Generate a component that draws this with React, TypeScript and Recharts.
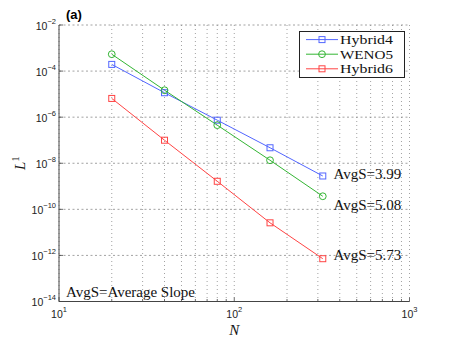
import React from 'react';
import { LineChart, Line, XAxis, YAxis, CartesianGrid, Legend, ReferenceDot } from 'recharts';

// ---- data ----
const Ns = [20, 40, 80, 160, 320];
const hybrid4 = [1.95e-4, 1.15e-5, 7.4e-7, 4.7e-8, 2.8e-9];
const weno5 = [5.4e-4, 1.48e-5, 4.5e-7, 1.35e-8, 3.7e-10];
const hybrid6 = [6.5e-6, 1.0e-7, 1.65e-9, 2.6e-11, 7.2e-13];

const seriesNames = ['Hybrid4', 'WENO5', 'Hybrid6'];
const seriesKeys = ['hybrid4', 'weno5', 'hybrid6'];
const seriesColors = ['#5266ff', '#33b533', '#ff4444'];
const seriesMarkers = ['square', 'circle', 'square'];

const xTicks = [10, 20, 30, 40, 50, 60, 70, 80, 90, 100, 200, 300, 400, 500, 600, 700, 800, 900, 1000];
const yTicks = [1e-14, 1e-12, 1e-10, 1e-8, 1e-6, 1e-4, 1e-2];

const slopeLabels = ['AvgS=3.99', 'AvgS=5.08', 'AvgS=5.73', 'AvgS=Average Slope'];
const slopeLabelN = [368, 368, 368, 10.95];
const slopeLabelL = [3.3e-9, 1.5e-10, 1.0e-12, 2.6e-14];

const panelTitle = '(a)';
const panelAnchorN = 10;
const panelAnchorL = 1e-2;

const data = Ns.map((n, i) => ({ N: n, hybrid4: hybrid4[i], weno5: weno5[i], hybrid6: hybrid6[i] }));

const AXIS = '#444';
const SERIF = '"Liberation Serif", "Times New Roman", serif';
const SANS = '"Liberation Sans", Arial, sans-serif';
const MINUS = '\u2212';

const isMajor = (v: number) => {
  const e = Math.log10(v);
  return Math.abs(e - Math.round(e)) < 1e-9;
};
const expStr = (v: number) => {
  const e = Math.round(Math.log10(v));
  return e < 0 ? MINUS + String(-e) : String(e);
};

const XTickBottom = (props: any) => {
  const { x, y, payload } = props;
  const v = payload.value;
  const major = isMajor(v);
  return (
    <g>
      <line x1={x} x2={x} y1={y} y2={y - (major ? 4 : 2.5)} stroke={AXIS} strokeWidth={0.8} />
      {major && (
        <text x={x} y={y + 16.5} textAnchor="middle" fontFamily={SANS} fontSize={10.5} fill="#222">
          10<tspan dy={-6} fontSize={7.5}>{expStr(v)}</tspan>
        </text>
      )}
    </g>
  );
};

const XTickTop = (props: any) => {
  const { x, y, payload } = props;
  const major = isMajor(payload.value);
  return <line x1={x} x2={x} y1={y} y2={y + (major ? 4 : 2.5)} stroke={AXIS} strokeWidth={0.8} />;
};

const YTickLeft = (props: any) => {
  const { x, y, payload } = props;
  return (
    <g>
      <line x1={x} x2={x + 4} y1={y} y2={y} stroke={AXIS} strokeWidth={0.8} />
      <text x={x - 3} y={y + 4.5} textAnchor="end" fontFamily={SANS} fontSize={10.5} fill="#222">
        10<tspan dy={-6} fontSize={7.5}>{expStr(payload.value)}</tspan>
      </text>
    </g>
  );
};

const YTickRight = (props: any) => {
  const { x, y } = props;
  return <line x1={x} x2={x - 4} y1={y} y2={y} stroke={AXIS} strokeWidth={0.8} />;
};

const makeDot = (marker: string, color: string) => (props: any) => {
  const { cx, cy, index } = props;
  if (cx == null || cy == null) return <g key={index} />;
  if (marker === 'circle') {
    return <circle key={index} cx={cx} cy={cy} r={3.4} fill="none" stroke={color} strokeWidth={1} />;
  }
  return <rect key={index} x={cx - 3} y={cy - 3} width={6} height={6} fill="none" stroke={color} strokeWidth={1} />;
};

const LegendBox = () => (
  <svg width={106} height={47} style={{ display: 'block' }}>
    <rect x={0.5} y={0.5} width={105} height={46} fill="#fff" stroke="#222" strokeWidth={1} />
    {seriesNames.map((name, i) => {
      const cy = 8.6 + i * 14.6;
      return (
        <g key={name}>
          <line x1={7} x2={39} y1={cy} y2={cy} stroke={seriesColors[i]} strokeWidth={1} />
          {seriesMarkers[i] === 'circle' ? (
            <circle cx={23} cy={cy} r={3.4} fill="none" stroke={seriesColors[i]} strokeWidth={1} />
          ) : (
            <rect x={20} y={cy - 3} width={6} height={6} fill="none" stroke={seriesColors[i]} strokeWidth={1} />
          )}
          <text x={41} y={cy + 4.4} fontFamily={SERIF} fontSize={13.2} fill="#111" textLength={53} lengthAdjust="spacingAndGlyphs">{name}</text>
        </g>
      );
    })}
  </svg>
);

const YTitle = (props: any) => {
  const vb = props.viewBox || { x: 9, y: 25, width: 50, height: 276.5 };
  const cx = vb.x + 11;
  const cy = vb.y + vb.height / 2;
  return (
    <text transform={`rotate(-90, ${cx}, ${cy})`} x={cx} y={cy + 5} textAnchor="middle" fontFamily={SERIF} fontSize={15} fill="#111">
      <tspan fontStyle="italic">L</tspan>
      <tspan dy={-6} fontSize={10}>1</tspan>
    </text>
  );
};

const XTitle = (props: any) => {
  const vb = props.viewBox || { x: 59, y: 301.5, width: 350.5, height: 30 };
  return (
    <text x={vb.x + vb.width / 2} y={vb.y + 33} textAnchor="middle" fontFamily={SERIF} fontStyle="italic" fontSize={15} fill="#111">
      N
    </text>
  );
};

const PanelTitleLabel = (props: any) => {
  const vb = props.viewBox || { x: 59, y: 25, width: 0, height: 0 };
  return (
    <text x={vb.x + 7} y={vb.y - 6} fontFamily={SANS} fontWeight="bold" fontSize={13} fill="#000">
      {panelTitle}
    </text>
  );
};

const NoteLabel = (text: string) => (props: any) => {
  const vb = props.viewBox || { x: 0, y: 0, width: 0, height: 0 };
  return (
    <text x={vb.x + vb.width / 2} y={vb.y + vb.height / 2 + 5} fontFamily={SERIF} fontSize={15} fill="#111">
      {text}
    </text>
  );
};

export default function App() {
  return (
    <div style={{ position: 'absolute', left: 0, top: 0, width: 452, height: 341, background: '#fff' }}>
      <LineChart width={452} height={341} data={data} margin={{ top: 25, right: 42.5, bottom: 9.5, left: 9 }}>
        <CartesianGrid horizontal={false} vertical={true} stroke="#8a8a8a" strokeDasharray="1 3" strokeWidth={0.8} />
        <CartesianGrid horizontal={true} vertical={false} stroke="#8a8a8a" strokeDasharray="2 2.5" strokeWidth={0.8} />
        <XAxis
          dataKey="N"
          type="number"
          scale="log"
          domain={[10, 1000]}
          ticks={xTicks}
          interval={0}
          allowDataOverflow
          height={30}
          tickSize={0}
          tickMargin={0}
          tickLine={false}
          axisLine={{ stroke: AXIS, strokeWidth: 1 }}
          tick={<XTickBottom />}
          label={<XTitle />}
        />
        <XAxis
          xAxisId="top"
          dataKey="N"
          type="number"
          scale="log"
          orientation="top"
          domain={[10, 1000]}
          ticks={xTicks}
          interval={0}
          allowDataOverflow
          height={0}
          tickSize={0}
          tickMargin={0}
          tickLine={false}
          axisLine={{ stroke: AXIS, strokeWidth: 1 }}
          tick={<XTickTop />}
        />
        <YAxis
          type="number"
          scale="log"
          domain={[1e-14, 1e-2]}
          ticks={yTicks}
          interval={0}
          allowDataOverflow
          width={50}
          tickSize={0}
          tickMargin={0}
          tickLine={false}
          axisLine={{ stroke: AXIS, strokeWidth: 1 }}
          tick={<YTickLeft />}
          label={<YTitle />}
        />
        <YAxis
          yAxisId="right"
          orientation="right"
          type="number"
          scale="log"
          domain={[1e-14, 1e-2]}
          ticks={yTicks}
          interval={0}
          allowDataOverflow
          width={0}
          tickSize={0}
          tickMargin={0}
          tickLine={false}
          axisLine={{ stroke: AXIS, strokeWidth: 1 }}
          tick={<YTickRight />}
        />
        {seriesKeys.map((k, i) => (
          <Line
            key={k}
            type="linear"
            dataKey={k}
            name={seriesNames[i]}
            stroke={seriesColors[i]}
            strokeWidth={1}
            dot={makeDot(seriesMarkers[i], seriesColors[i])}
            activeDot={false}
            isAnimationActive={false}
          />
        ))}
        {slopeLabels.map((t, i) => (
          <ReferenceDot
            key={t}
            x={slopeLabelN[i]}
            y={slopeLabelL[i]}
            r={0}
            fill="none"
            stroke="none"
            label={NoteLabel(t)}
          />
        ))}
        <ReferenceDot
          x={panelAnchorN}
          y={panelAnchorL}
          r={0}
          fill="none"
          stroke="none"
          ifOverflow="visible"
          label={<PanelTitleLabel />}
        />
        <Legend
          layout="vertical"
          align="center"
          verticalAlign="middle"
          width={106}
          height={47}
          wrapperStyle={{ left: 299, top: 31, width: 106, height: 47 }}
          content={<LegendBox />}
        />
      </LineChart>
    </div>
  );
}
